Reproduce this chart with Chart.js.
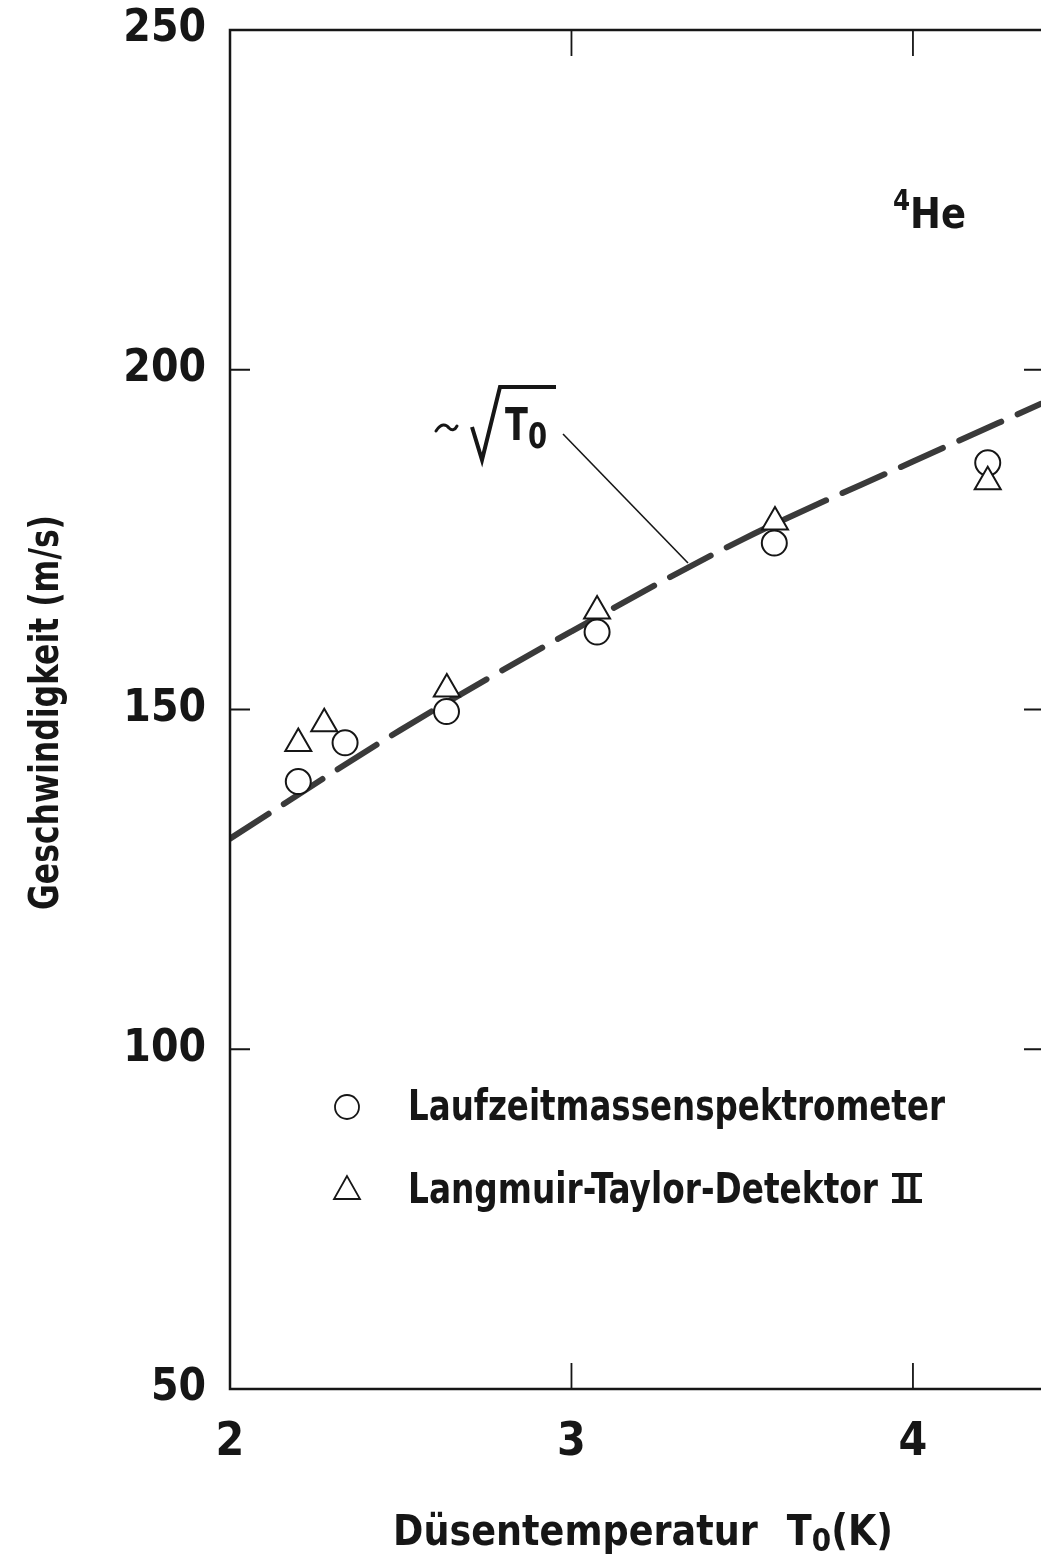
<!DOCTYPE html>
<html>
<head>
<meta charset="utf-8">
<script src="https://cdn.jsdelivr.net/npm/chart.js@4.4.1/dist/chart.umd.min.js"></script>
<style>
  html, body { margin: 0; padding: 0; background: #fff; overflow: hidden; }
  #wrap { position: relative; width: 1041px; height: 1560px; }
</style>
</head>
<body>
<div id="wrap"><canvas id="chart" width="1041" height="1560"></canvas></div>
<script>
// axis ranges and ticks
const xMin = 2, xMax = 4.375;
const yMin = 50, yMax = 250;
const xTicks = [2, 3, 4];
const yTicks = [50, 100, 150, 200, 250];

// Laufzeitmassenspektrometer (circles)
const tofX = [2.2, 2.337, 2.634, 3.075, 3.594, 4.219];
const tofY = [139.4, 145.1, 149.7, 161.4, 174.5, 186.3];

// Langmuir-Taylor-Detektor II (triangles)
const ltdX = [2.2, 2.276, 2.635, 3.075, 3.596, 4.219];
const ltdY = [145.0, 147.9, 153.0, 164.5, 177.6, 183.5];

// dashed ~sqrt(T0) curve
const fitX = [2, 2.5, 3, 3.5, 4, 4.375];
const fitY = [131, 147, 161.5, 175, 186.5, 195];

const fontFamily = "'Liberation Sans Narrow', 'DejaVu Sans Condensed', 'Arial Narrow', sans-serif";
const ink = '#161616';

const toPoints = (xs, ys) => xs.map((v, i) => ({ x: v, y: ys[i] }));

// draw a run of text parts, squeezed/stretched to a given width
function drawParts(ctx, parts, x, y, width) {
    let total = 0;
    parts.forEach(p => {
        ctx.font = `bold ${p.size}px ${fontFamily}`;
        p.w = ctx.measureText(p.t).width + (p.gap || 0);
        total += p.w;
    });
    ctx.save();
    ctx.translate(x, y);
    if (width) ctx.scale(width / total, 1);
    let cx = 0;
    parts.forEach(p => {
        ctx.font = `bold ${p.size}px ${fontFamily}`;
        ctx.fillText(p.t, cx, p.dy || 0);
        cx += p.w;
    });
    ctx.restore();
}

// roman numeral II with bars, as printed in the original
function drawRomanTwo(ctx, x, y, w, h) {
    const s = 5;
    ctx.fillRect(x, y, w, 4);
    ctx.fillRect(x, y + h - 4, w, 4);
    ctx.fillRect(x + w * 0.22, y, s, h);
    ctx.fillRect(x + w * 0.78 - s, y, s, h);
}

const decorations = {
    id: 'decorations',
    afterDatasetsDraw(chart) {
        const { ctx, chartArea: a, scales: { x, y } } = chart;
        ctx.save();
        ctx.strokeStyle = ink;
        ctx.fillStyle = ink;

        // frame (right side runs off the page)
        ctx.lineWidth = 2.5;
        ctx.beginPath();
        ctx.moveTo(a.right + 5, a.top);
        ctx.lineTo(a.left, a.top);
        ctx.lineTo(a.left, a.bottom);
        ctx.lineTo(a.right + 5, a.bottom);
        ctx.stroke();

        // inward ticks
        ctx.lineWidth = 1.8;
        ctx.beginPath();
        xTicks.forEach(v => {
            if (v === xMin) return;
            const px = x.getPixelForValue(v);
            ctx.moveTo(px, a.top);
            ctx.lineTo(px, a.top + 26);
            ctx.moveTo(px, a.bottom);
            ctx.lineTo(px, a.bottom - 26);
        });
        yTicks.forEach(v => {
            if (v === yMin || v === yMax) return;
            const py = y.getPixelForValue(v);
            ctx.moveTo(a.left, py);
            ctx.lineTo(a.left + 20, py);
            ctx.moveTo(a.right, py);
            ctx.lineTo(a.right - 17, py);
        });
        ctx.stroke();

        ctx.textBaseline = 'alphabetic';
        ctx.textAlign = 'left';

        // y axis title
        ctx.save();
        ctx.translate(58, 910);
        ctx.rotate(-Math.PI / 2);
        drawParts(ctx, [{ t: 'Geschwindigkeit (m/s)', size: 40 }], 0, 0, 395);
        ctx.restore();

        // x axis title
        drawParts(ctx, [
            { t: 'Düsentemperatur', size: 42, gap: 30 },
            { t: 'T', size: 42 },
            { t: '0', size: 32, dy: 6 },
            { t: '(K)', size: 42 }
        ], 393, 1545, 500);

        // legend
        ctx.lineWidth = 1.8;
        ctx.beginPath();
        ctx.arc(347, 1107, 12, 0, Math.PI * 2);
        ctx.stroke();
        ctx.beginPath();
        ctx.moveTo(347, 1176);
        ctx.lineTo(334, 1199);
        ctx.lineTo(360, 1199);
        ctx.closePath();
        ctx.stroke();
        drawParts(ctx, [{ t: 'Laufzeitmassenspektrometer', size: 42 }], 408, 1120, 537);
        drawParts(ctx, [{ t: 'Langmuir-Taylor-Detektor', size: 42 }], 408, 1203, 470);
        drawRomanTwo(ctx, 892, 1173, 30, 30);

        // 4He label
        drawParts(ctx, [{ t: '4', size: 28, dy: -18 }, { t: 'He', size: 42 }], 893, 228, 73);

        // ~ sqrt(T0) label
        ctx.lineWidth = 3;
        ctx.lineCap = 'round';
        ctx.beginPath();
        ctx.moveTo(436, 431);
        ctx.bezierCurveTo(441, 423, 446, 424, 449, 428);
        ctx.bezierCurveTo(452, 431, 455, 430, 457, 426);
        ctx.stroke();
        ctx.lineCap = 'butt';
        ctx.lineWidth = 4;
        ctx.lineJoin = 'miter';
        ctx.beginPath();
        ctx.moveTo(472, 427);
        ctx.lineTo(482, 460);
        ctx.lineTo(500, 387);
        ctx.lineTo(556, 387);
        ctx.stroke();
        drawParts(ctx, [{ t: 'T', size: 44 }, { t: '0', size: 36, dy: 8 }], 505, 440, 42);

        // leader line to the curve
        ctx.lineWidth = 1.6;
        ctx.beginPath();
        ctx.moveTo(563, 434);
        ctx.lineTo(688, 563);
        ctx.stroke();

        ctx.restore();
    }
};

const ctx = document.getElementById('chart');

new Chart(ctx, {
    type: 'scatter',
    data: {
        datasets: [
            {
                label: 'Laufzeitmassenspektrometer',
                data: toPoints(tofX, tofY),
                pointStyle: 'circle',
                pointRadius: 12.5,
                pointBorderWidth: 2,
                borderColor: ink,
                backgroundColor: '#fff',
                order: 1
            },
            {
                label: 'Langmuir-Taylor-Detektor II',
                data: toPoints(ltdX, ltdY),
                pointStyle: 'triangle',
                pointRadius: 15,
                pointBorderWidth: 2,
                borderColor: ink,
                backgroundColor: '#fff',
                order: 0
            },
            {
                type: 'line',
                label: '~ sqrt(T0)',
                data: toPoints(fitX, fitY),
                showLine: true,
                borderColor: '#3a3a3a',
                borderWidth: 6,
                borderDash: [46, 18],
                borderCapStyle: 'round',
                cubicInterpolationMode: 'monotone',
                pointRadius: 0,
                fill: false,
                order: 2
            }
        ]
    },
    options: {
        responsive: false,
        animation: false,
        devicePixelRatio: 1,
        layout: {
            autoPadding: false,
            padding: { left: 0, right: 0, top: 30, bottom: 0 }
        },
        plugins: {
            legend: { display: false },
            tooltip: { enabled: false }
        },
        scales: {
            x: {
                type: 'linear',
                min: xMin,
                max: xMax,
                afterBuildTicks: scale => { scale.ticks = xTicks.map(v => ({ value: v })); },
                afterFit: scale => {
                    scale.height = 171;
                    scale.paddingLeft = 0;
                    scale.paddingRight = 0;
                },
                grid: { display: false, drawTicks: false },
                border: { display: false },
                ticks: {
                    color: ink,
                    padding: 26,
                    font: { family: fontFamily, size: 46, weight: 'bold' }
                }
            },
            y: {
                type: 'linear',
                min: yMin,
                max: yMax,
                afterBuildTicks: scale => { scale.ticks = yTicks.map(v => ({ value: v })); },
                afterFit: scale => {
                    scale.width = 230;
                    scale.paddingTop = 0;
                    scale.paddingBottom = 0;
                },
                grid: { display: false, drawTicks: false },
                border: { display: false },
                ticks: {
                    color: ink,
                    padding: 24,
                    font: { family: fontFamily, size: 44, weight: 'bold' }
                }
            }
        }
    },
    plugins: [decorations]
});
</script>
</body>
</html>
